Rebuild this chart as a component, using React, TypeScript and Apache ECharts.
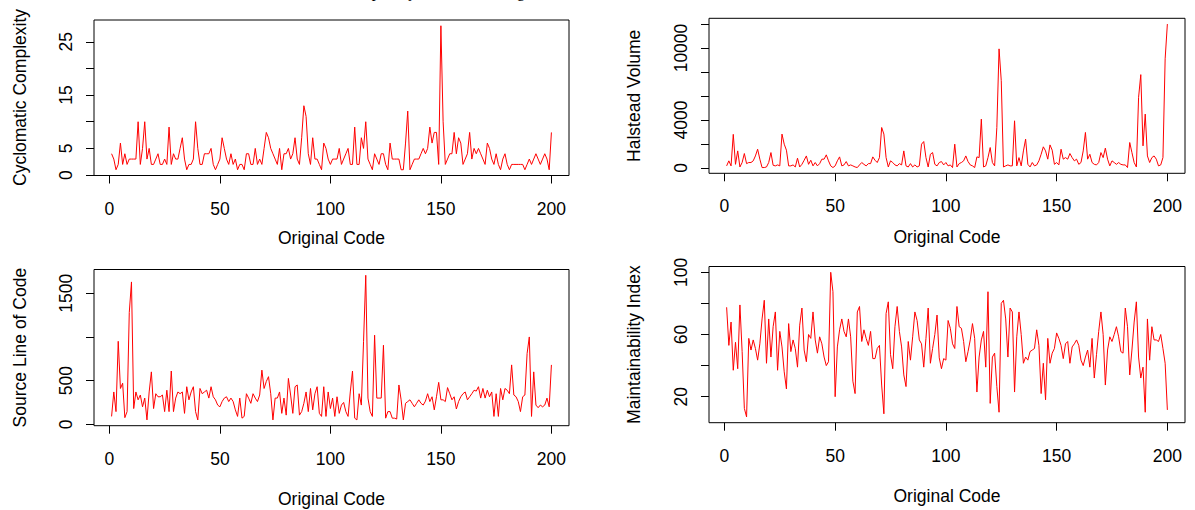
import React, { useEffect, useRef } from "react";
import * as echarts from "echarts";

const cyclomatic = [
  4, 3, 1, 2, 6, 2, 4, 2, 3, 3,
  3, 3, 10, 2, 5, 10, 3, 5, 2, 2,
  3, 4, 2, 2, 3, 2, 9, 2, 4, 3,
  3, 5, 7, 3, 1, 2, 2, 3, 10, 5,
  2, 2, 4, 4, 4, 5, 2, 1, 2, 3,
  7, 5, 3, 2, 4, 2, 3, 1, 2, 2,
  1, 4, 4, 2, 2, 5, 2, 3, 2, 5,
  8, 7, 5, 4, 3, 2, 5, 1, 4, 4,
  5, 3, 4, 7, 3, 2, 7, 13, 11, 4,
  2, 7, 3, 3, 2, 1, 6, 5, 3, 2,
  3, 3, 3, 5, 2, 3, 4, 5, 2, 2,
  9, 2, 2, 7, 5, 10, 3, 2, 1, 4,
  3, 2, 4, 4, 2, 1, 6, 3, 3, 3,
  3, 1, 1, 6, 12, 1, 2, 3, 3, 3,
  4, 5, 4, 5, 9, 6, 8, 8, 2, 28,
  10, 2, 3, 4, 4, 8, 4, 7, 6, 2,
  3, 4, 8, 3, 5, 4, 5, 4, 3, 2,
  6, 5, 3, 2, 4, 2, 1, 3, 4, 2,
  1, 2, 2, 2, 2, 2, 2, 1, 2, 3,
  2, 3, 4, 3, 2, 3, 4, 3, 1, 8,
];

const halstead = [
  170, 590, 170, 2800, 300, 1420, 80, 450, 1200, 360,
  450, 450, 590, 1000, 1560, 730, 30, 30, 80, 450,
  1280, 220, 170, 250, 170, 2820, 1980, 1480, 170, 170,
  250, 80, 810, 80, 300, 640, 1000, 300, 640, 170,
  450, 170, 360, 730, 730, 1090, 590, 170, 30, 170,
  590, 920, 170, 250, 530, 170, 250, 170, 80, 30,
  250, 450, 300, 170, 360, 360, 920, 640, 450, 860,
  3370, 2820, 860, 80, 590, 450, 250, 170, 360, 250,
  1420, 170, 80, 360, 80, 250, 80, 170, 1980, 2200,
  860, 80, 1140, 1280, 300, 170, 450, 530, 250, 450,
  170, 250, 30, 1980, 80, 360, 450, 590, 1000, 530,
  250, 170, 30, 920, 860, 4070, 80, 170, 860, 1700,
  450, 170, 3370, 9930, 7280, 80, 170, 250, 170, 170,
  3930, 170, 860, 170, 1420, 2400, 300, 80, 450, 170,
  250, 590, 1140, 1760, 1420, 730, 1920, 1480, 300, 450,
  250, 1560, 730, 860, 730, 1200, 860, 590, 730, 300,
  450, 1420, 2960, 730, 1140, 450, 300, 250, 450, 1280,
  860, 1650, 730, 170, 590, 450, 300, 450, 300, 250,
  250, 30, 2120, 1280, 450, 80, 5890, 7780, 1840, 4490,
  1000, 450, 860, 1000, 730, 170, 250, 860, 9100, 12000,
];

const sourceLines = [
  90, 370, 145, 950, 410, 470, 76, 145, 1280, 1630,
  180, 370, 280, 335, 200, 300, 50, 370, 600, 180,
  350, 315, 315, 335, 145, 390, 145, 610, 145, 300,
  370, 350, 370, 125, 430, 280, 370, 430, 145, 50,
  410, 350, 370, 390, 300, 430, 315, 280, 220, 200,
  260, 300, 315, 260, 300, 260, 165, 90, 300, 70,
  90, 350, 300, 240, 350, 300, 260, 335, 620, 410,
  490, 545, 350, 50, 300, 300, 370, 125, 300, 105,
  525, 335, 125, 430, 450, 105, 145, 240, 370, 145,
  410, 165, 350, 430, 125, 90, 430, 90, 370, 180,
  300, 90, 315, 125, 220, 250, 145, 90, 370, 610,
  70, 50, 350, 220, 945, 1706, 300, 145, 90, 1020,
  300, 300, 300, 905, 70, 145, 145, 70, 70, 60,
  450, 280, 50, 240, 260, 280, 240, 200, 240, 280,
  240, 220, 265, 350, 260, 315, 165, 315, 480, 280,
  280, 260, 420, 350, 280, 315, 175, 260, 315, 350,
  370, 280, 315, 350, 390, 380, 430, 300, 410, 300,
  390, 315, 370, 90, 350, 90, 410, 280, 410, 390,
  350, 680, 335, 315, 260, 145, 315, 335, 810, 1000,
  90, 600, 220, 190, 220, 200, 220, 300, 200, 680,
];

const maintainability = [
  77.5, 53, 68, 37, 55, 38, 79, 49, 12.5, 7,
  57.5, 50, 56.5, 51, 43.5, 54, 70, 82, 41.5, 70,
  45.5, 65, 74.5, 37, 62, 52, 36, 25, 67, 49,
  56.5, 51, 39, 66, 77, 50, 42.5, 60, 57.5, 74.5,
  56.5, 48, 58.5, 54, 45.5, 40, 42.5, 100, 87.5, 20,
  52, 63, 70, 62, 58.5, 70, 58.5, 30, 22, 74.5,
  78, 55.5, 63, 57.5, 53, 62, 44.5, 44.5, 51, 53,
  27.5, 9, 73.5, 81, 47, 38, 65, 78, 62, 52,
  34, 26.5, 55.5, 43.5, 58.5, 74.5, 69, 56.5, 54, 39,
  57.5, 77, 41.5, 51, 60, 72.5, 45, 38, 44.5, 43.5,
  69, 64, 54, 51, 78, 65, 64, 55.5, 42.5, 49,
  56.5, 67, 57.5, 23, 45.5, 56.5, 62, 39, 87.5, 15.7,
  45.5, 48, 26.5, 10, 80, 82, 70, 45.5, 77, 74.5,
  23, 58.5, 74.5, 60, 41.5, 45.5, 43.5, 49, 50, 51,
  63, 53, 22, 41.5, 18, 57.5, 41.5, 48, 51, 61,
  57.5, 53, 44.5, 54, 55.5, 41.5, 52, 54, 56.5, 53,
  43.5, 40, 45.5, 50, 39, 57.5, 32, 47, 62, 74.5,
  60, 27.5, 50, 58.5, 55.5, 60, 65, 58.5, 49, 48,
  77, 65, 34, 50, 68, 81, 45.5, 32, 39, 10,
  70, 43.5, 65, 56.5, 56.5, 55.5, 60, 51, 41.5, 11.5,
];

const xTicks = [0, 50, 100, 150, 200];
const ccTicks = [0, 5, 10, 15, 20, 25];
const ccLabels = [0, 5, 15, 25];
const hvTicks = [0, 2000, 4000, 6000, 8000, 10000, 12000];
const hvLabels = [0, 4000, 10000];
const slTicks = [0, 500, 1000, 1500];
const slLabels = [0, 500, 1500];
const miTicks = [20, 40, 60, 80, 100];
const miLabels = [20, 60, 100];

const xTitle = "Original Code";
const yTitles = ["Cyclomatic Complexity", "Halstead Volume", "Source Line of Code", "Maintainability Index"];
const topTitle = "Complexity Metrics for Original Code";

const FONT = '"Liberation Sans", Arial, sans-serif';
const FS = 17.5;

function padRange(vals: number[]) {
  const lo = Math.min(...vals);
  const hi = Math.max(...vals);
  const p = 0.04 * (hi - lo);
  return [lo - p, hi + p];
}

const plain = (v: number) => String(Math.round(v));

export default function App() {
  const ref = useRef<HTMLDivElement>(null);
  useEffect(() => {
    if (!ref.current) return;
    const chart = echarts.init(ref.current, undefined, { renderer: "svg" });

    const panels = [
      { data: cyclomatic, ticks: ccTicks, labels: ccLabels, grid: { left: 94, top: 20, width: 475, height: 155.5 }, xt: [331.5, 238], yt: [20, 97.5] },
      { data: halstead, ticks: hvTicks, labels: hvLabels, grid: { left: 709, top: 18.3, width: 476, height: 155 }, xt: [947, 237], yt: [634, 95.8] },
      { data: sourceLines, ticks: slTicks, labels: slLabels, grid: { left: 94, top: 269.5, width: 475, height: 156.2 }, xt: [331.5, 499], yt: [20, 347.6] },
      { data: maintainability, ticks: miTicks, labels: miLabels, grid: { left: 709, top: 266.5, width: 476, height: 156.2 }, xt: [947, 496], yt: [634, 344.6] },
    ];

    const n = cyclomatic.length;
    const xr = padRange([1, n]);

    const graphic: any[] = [];
    panels.forEach((p) => {
      graphic.push({
        type: "text",
        x: p.xt[0],
        y: p.xt[1],
        style: { text: xTitle, fontSize: FS, fontFamily: FONT, fill: "#000", align: "center", verticalAlign: "middle", textAlign: "center", textVerticalAlign: "middle" },
      });
    });
    panels.forEach((p, k) => {
      graphic.push({
        type: "text",
        x: p.yt[0],
        y: p.yt[1],
        rotation: Math.PI / 2,
        style: { text: yTitles[k], fontSize: FS, fontFamily: FONT, fill: "#000", align: "center", verticalAlign: "middle", textAlign: "center", textVerticalAlign: "middle" },
      });
    });
    graphic.push({
      type: "text",
      x: 340.7,
      y: -1,
      style: { text: topTitle, fontSize: 16, fontFamily: '"Liberation Serif", "Times New Roman", serif', fill: "#000", align: "left", verticalAlign: "bottom", textAlign: "left", textVerticalAlign: "bottom" },
    });

    chart.setOption({
      animation: false,
      backgroundColor: "#fff",
      grid: panels.map((p) => ({
        ...p.grid,
        show: true,
        borderColor: "#000",
        borderWidth: 1,
        backgroundColor: "transparent",
        containLabel: false,
        outerBoundsMode: "none",
      })),
      xAxis: panels.map((p, k) => ({
        type: "value",
        gridIndex: k,
        min: xr[0],
        max: xr[1],
        axisLine: { show: false, onZero: false },
        splitLine: { show: false },
        axisTick: { show: true, inside: false, customValues: xTicks, length: 8, lineStyle: { color: "#000", width: 1 } },
        axisLabel: { customValues: xTicks, formatter: plain, margin: 24, fontSize: FS, fontFamily: FONT, color: "#000" },
      })),
      yAxis: panels.map((p, k) => {
        const yr = padRange(p.data);
        return {
          type: "value",
          gridIndex: k,
          min: yr[0],
          max: yr[1],
          axisLine: { show: false, onZero: false },
          splitLine: { show: false },
          axisTick: { show: true, inside: false, customValues: p.ticks, length: 8, lineStyle: { color: "#000", width: 1 } },
          axisLabel: {
            customValues: p.labels,
            formatter: plain,
            rotate: 90,
            margin: 19,
            align: "center",
            verticalAlign: "bottom",
            fontSize: FS,
            fontFamily: FONT,
            color: "#000",
          },
        };
      }),
      series: panels.map((p, k) => ({
        type: "line",
        xAxisIndex: k,
        yAxisIndex: k,
        data: p.data.map((v, i) => [i + 1, v]),
        showSymbol: false,
        symbol: "none",
        silent: true,
        lineStyle: { color: "#ff0000", width: 1 },
      })),
      graphic,
    });

    return () => chart.dispose();
  }, []);

  return <div ref={ref} style={{ position: "absolute", left: 0, top: 0, width: 1195, height: 510 }} />;
}
